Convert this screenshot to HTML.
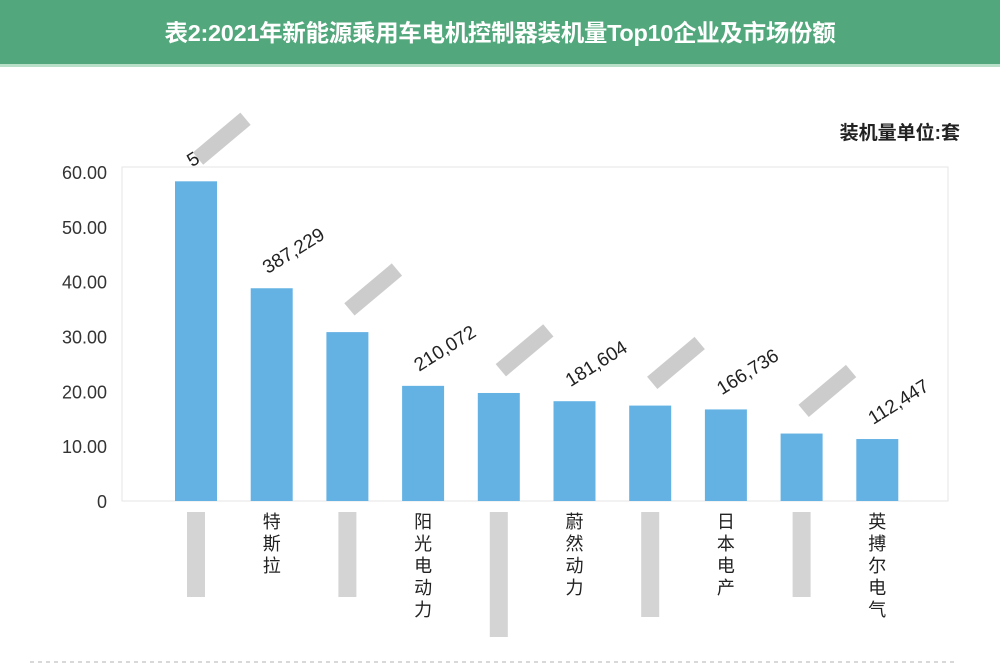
<!DOCTYPE html>
<html><head><meta charset="utf-8">
<style>
body{margin:0;width:1000px;height:667px;overflow:hidden;background:#fff;font-family:"Liberation Sans","Noto Sans CJK SC",sans-serif;}
#hdr{position:absolute;left:0;top:0;width:1000px;height:64px;background:#52a87c;border-bottom:3px solid #b8e0c8;color:#fff;font-weight:bold;font-size:23.5px;text-align:center;line-height:66px;letter-spacing:-0.3px;}
#unit{position:absolute;right:40px;top:118px;font-size:19px;font-weight:bold;color:#222;}
svg{position:absolute;left:0;top:0}
</style></head><body>
<div id="hdr">表2:2021年新能源乘用车电机控制器装机量Top10企业及市场份额</div>
<div id="unit">装机量单位:套</div>
<svg id="c" width="1000" height="667"></svg>
<script>
const categories=["","特斯拉","","阳光电动力","","蔚然动力","","日本电产","","英搏尔电气"];
const values=[58.3,38.8,30.8,21.0,19.7,18.2,17.4,16.7,12.3,11.3];
const valueLabels=["5","387,229","","210,072","","181,604","","166,736","","112,447"];
const ticks=[0,10,20,30,40,50,60];
const tickLabels=["0","10.00","20.00","30.00","40.00","50.00","60.00"];
const NS="http://www.w3.org/2000/svg";
const svg=document.getElementById('c');
const x0=122,x1=948,y0=501,yTop=172;
const y=v=>y0-(v/60)*(y0-yTop);
const xc=i=>196+i*75.7;
function mk(t,a){const e=document.createElementNS(NS,t);for(const k in a)e.setAttribute(k,a[k]);svg.appendChild(e);return e;}
const frame=mk('rect',{x:x0,y:yTop-5,width:x1-x0,height:y0-yTop+5,fill:'none',stroke:'#e6e6e6'});


ticks.forEach((t,i)=>{
 const e=mk('text',{x:107,y:y(t)+7,'text-anchor':'end','font-size':18,fill:'#333'});
 e.textContent=tickLabels[i];
 
 
});
values.forEach((v,i)=>{
 const cx=xc(i);
 const r=mk('rect',{x:cx-21,y:y(v),width:42,height:y0-y(v),fill:'#64b2e4'});
 
 
 if(valueLabels[i]){
  const t=mk('text',{x:cx-4,y:y(v)-14,'font-size':19,fill:'#222',transform:`rotate(-32 ${cx-4} ${y(v)-14})`});
  t.textContent=valueLabels[i];
  
  
 }
 if(!valueLabels[i]||i==0){
  const g=mk('rect',{x:cx-5,y:y(v)-50,width:62,height:16,fill:'#aaa',opacity:0.6,transform:`rotate(-40 ${cx+25} ${y(v)-42})`});
  
  
 }
 if(categories[i]){
  [...categories[i]].forEach((ch,k)=>{
   const t=mk('text',{x:cx,y:528+k*22,'text-anchor':'middle','font-size':18,fill:'#222'});
   t.textContent=ch;
   
   
  });
 }else{
  const h=[85,85,125,105,85][Math.floor(i/2)];
  const g=mk('rect',{x:cx-9,y:512,width:18,height:h,fill:'#aaa',opacity:0.5});
  
  
 }
});
const d=mk('line',{x1:30,y1:662,x2:955,y2:662,stroke:'#ccc','stroke-dasharray':'4 4','stroke-width':1.5});


</script>
</body></html>
